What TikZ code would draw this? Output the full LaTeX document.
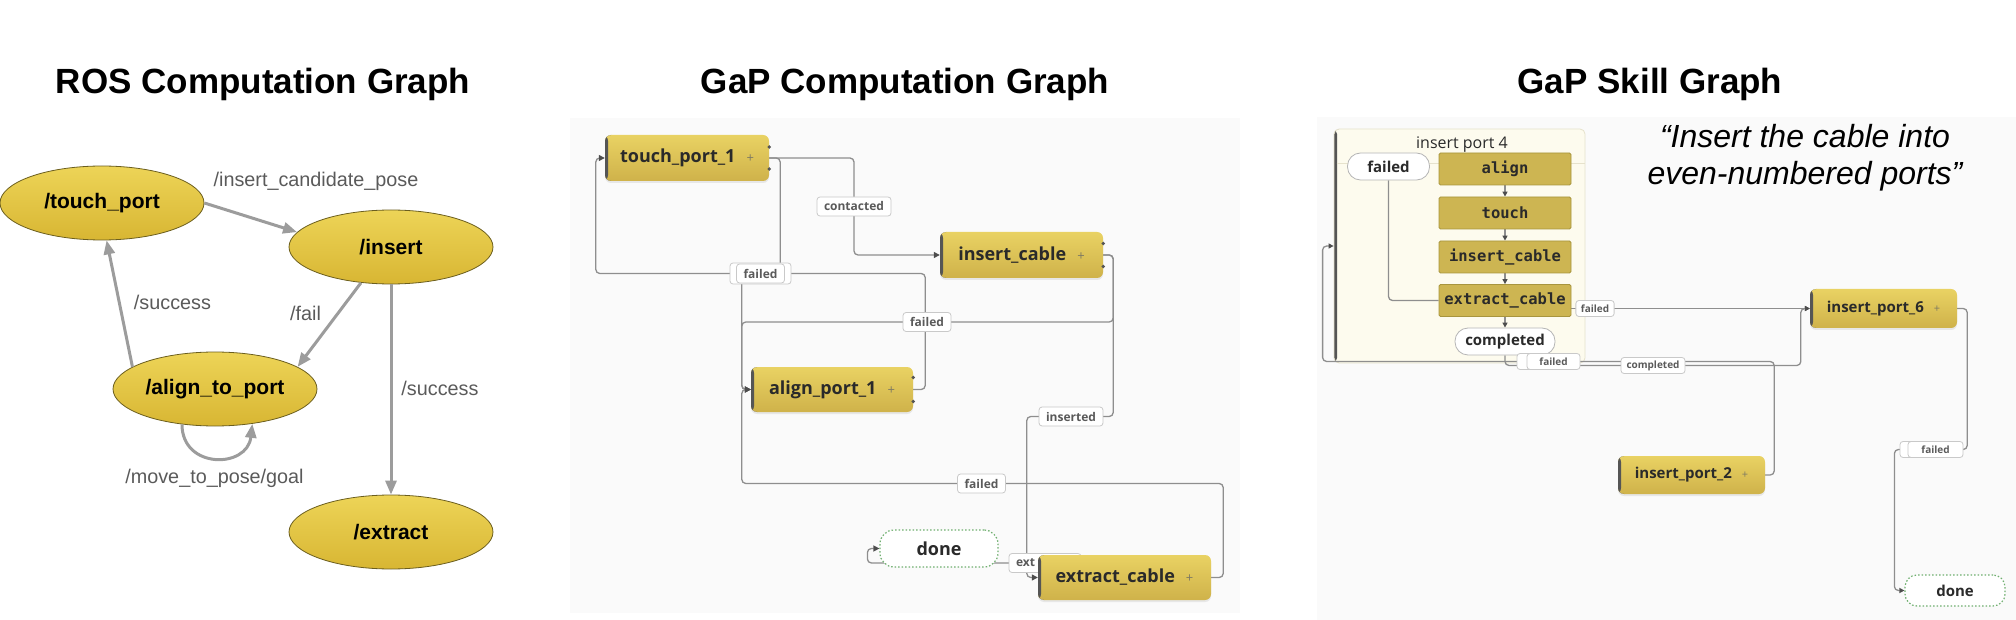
\documentclass[tikz,border=0pt]{standalone}
\usepackage{fontspec}
\setmainfont{Liberation Sans}
\newfontfamily\ops{Open Sans}
\newfontfamily\mono{DejaVu Sans Mono}
\usetikzlibrary{shapes.geometric,arrows.meta,shadows}
\newcommand\fsz[1]{\fontsize{#1}{#1}\selectfont}
\definecolor{rosTop}{HTML}{EDD457}
\definecolor{rosBot}{HTML}{D8B633}
\definecolor{rosBorder}{HTML}{6B5E1E}
\definecolor{rosGray}{HTML}{9C9C9C}
\definecolor{rosLab}{HTML}{5A5A5A}
\definecolor{gTop}{HTML}{E9D263}
\definecolor{gBot}{HTML}{CFB24A}
\definecolor{gEdge}{HTML}{555555}
\definecolor{gText}{HTML}{2A2A2A}
\definecolor{plusC}{HTML}{7E7A62}
\definecolor{lineC}{HTML}{8E8E8E}
\definecolor{arrowC}{HTML}{4D4D4D}
\definecolor{labBorder}{HTML}{C9C9C9}
\definecolor{labText}{HTML}{5A5A5A}
\definecolor{doneG}{HTML}{6FAF6F}
\definecolor{panelC}{HTML}{FAFAFA}
\definecolor{cream}{HTML}{FDFBEE}
\definecolor{creamBorder}{HTML}{E6E2CC}
\definecolor{mboxFill}{HTML}{CDB552}
\definecolor{mboxBorder}{HTML}{A8953E}
\definecolor{pillBorder}{HTML}{B5B5B5}
\newcommand\gtext[1]{#1\hspace{11pt}{\color{plusC}\fsz{13}\mdseries+}}
\newcommand\stext[1]{#1\hspace{10pt}{\color{plusC}\fsz{11}\mdseries+}}
\pgfdeclarelayer{bg}\pgfdeclarelayer{edges}\pgfsetlayers{bg,edges,main}
\begin{document}
\begin{tikzpicture}[x=1pt,y=-1pt,
  title/.style={font=\fsz{35}\bfseries, text=black, inner sep=0},
  rosnode/.style={ellipse, draw=rosBorder, line width=0.8pt, top color=rosTop, bottom color=rosBot,
    minimum width=204pt, minimum height=74pt, font=\fsz{21}\bfseries, text=black, inner sep=0},
  rosedge/.style={draw=rosGray, line width=3pt, -{Triangle[length=14pt,width=11pt]}},
  roslab/.style={text=rosLab, font=\fsz{19.8}, inner sep=0},
  gnode/.style={rectangle, rounded corners=6pt, top color=gTop, bottom color=gBot,
    minimum height=46pt, font=\ops\fsz{18}\bfseries, text=gText, inner xsep=0,
    path picture={\fill[gEdge] (path picture bounding box.north west) rectangle ([xshift=3pt]path picture bounding box.south west);},
    drop shadow={opacity=0.15, shadow xshift=0pt, shadow yshift=-2pt}},
  snode/.style={gnode, minimum height=39pt, font=\ops\fsz{15}\bfseries},
  glab/.style={draw=labBorder, fill=white, rounded corners=3pt, line width=0.8pt,
    font=\ops\fsz{12}\bfseries, text=labText, inner xsep=7pt, inner ysep=0pt, minimum height=19pt},
  slab/.style={glab, font=\ops\fsz{10}\bfseries, inner xsep=5pt, minimum height=16pt},
  gline/.style={draw=lineC, line width=1.3pt, rounded corners=4pt},
  garrow/.style={-{Triangle[length=6pt,width=6pt,color=arrowC]}},
  sarrow/.style={-{Triangle[length=5pt,width=5pt,color=arrowC]}},
  gdone/.style={draw=doneG, line width=1.2pt, dash pattern=on 1.5pt off 2pt, rounded corners=14pt,
    fill=white, font=\ops\fsz{18}\bfseries, text=gText, inner sep=0},
  mbox/.style={fill=mboxFill, draw=mboxBorder, line width=0.8pt, rounded corners=1.5pt,
    minimum width=132pt, minimum height=32pt, font=\mono\fsz{15.5}\bfseries, text=gText, inner sep=0},
  pill/.style={fill=white, draw=pillBorder, line width=0.8pt, rounded corners=13pt,
    font=\ops\fsz{15}\bfseries, text=gText, inner sep=0},
  dotn/.style={fill=gEdge}
]
\useasboundingbox (0,0) rectangle (2016,620);

% ---------- panels ----------
\begin{pgfonlayer}{bg}
  \fill[panelC] (570,118) rectangle (1240,613);
  \fill[panelC] (1317,117) rectangle (2016,620);
  \node[fill=cream, draw=creamBorder, line width=0.8pt, rounded corners=5pt,
        minimum width=251pt, minimum height=234pt, inner sep=0,
        path picture={\fill[gEdge] (path picture bounding box.north west) rectangle ([xshift=3pt]path picture bounding box.south west);}]
        (ip4) at (1459.5,246) {};
  \coordinate (hd) at (0,163);
  \draw[creamBorder, line width=0.8pt] ([xshift=3pt]ip4.west |- hd) -- (ip4.east |- hd);
\end{pgfonlayer}

% ---------- titles ----------
\node[title] (t1) at (263,84) {ROS Computation Graph};
\node[title] (t2) at (905,84) {GaP Computation Graph};
\node[title] (t3) at (1650,84) {GaP Skill Graph};

% ---------- ROS computation graph ----------
\node[rosnode] (touch) at (102,203) {/touch\_port};
\node[rosnode] (insert) at (391,247) {/insert};
\node[rosnode] (align) at (215,389) {/align\_to\_port};
\node[rosnode] (extract) at (391,532) {/extract};
\draw[rosedge] (touch.east) -- (insert.171);
\draw[rosedge] (insert.230) -- (align.15);
\draw[rosedge] (align.165) -- (touch.277);
\draw[rosedge] (insert.south) -- (extract.north);
\draw[rosedge] (align.227) .. controls +(0,45) and +(-5,45) .. (align.317);
\node[roslab] (l1) at (316,181) {/insert\_candidate\_pose};
\node[roslab] (l2) at (305.5,313) {/fail};
\node[roslab] (l3) at (172.5,302) {/success};
\node[roslab] (l4) at (440,388) {/success};
\node[roslab] (l5) at (214.5,478) {/move\_to\_pose/goal};

% ---------- GaP computation graph ----------
\node[glab] (le) at (1045,563) {\makebox[58pt][l]{ext}};
\node[gnode, minimum width=164pt] (tp) at (687,158) {\gtext{touch\_port\_1}};
\node[gnode, minimum width=163pt] (ic) at (1021.5,255) {\gtext{insert\_cable}};
\node[gnode, minimum width=162pt, minimum height=45pt] (ap) at (832,389.5) {\gtext{align\_port\_1}};
\node[gnode, minimum width=173pt, minimum height=45pt] (ec) at (1124.5,577.5) {\gtext{extract\_cable}};
\node[gdone, minimum width=118pt, minimum height=37pt] (dn) at (939,548.5) {done};
\foreach \n/\d in {tp/11,ic/11.5,ap/12}{
  \fill[dotn] ([yshift=\d pt]\n.east) circle (1.8pt);
  \fill[dotn] ([yshift=-\d pt]\n.east) circle (1.8pt);
}
\node[glab, minimum width=61pt, minimum height=21pt] (lf1b) at (760.5,273.5) {};
\node[glab] (lf1) at (760.5,273.5) {failed};
\node[glab] (lc) at (854,206.5) {contacted};
\node[glab] (lf2) at (927,322) {failed};
\node[glab] (li) at (1071,416.5) {inserted};
\node[glab] (lf3) at (981.5,483.5) {failed};

\begin{pgfonlayer}{edges}
  \draw[gline, garrow] (tp.east) -| (lc.center) |- (ic.west);
  \draw[gline, garrow] (tp.east) -- ([xshift=11pt]tp.east) |- (lf1.center) -| ([xshift=-9pt]ap.west) -- (ap.west);
  \draw[gline, garrow] (ap.east) -- ([xshift=12pt]ap.east) |- ([xshift=-9pt]tp.west |- lf1.center) -- ([xshift=-9pt]tp.west) -- (tp.west);
  \draw[gline, garrow] (ic.east) -- ([xshift=10pt]ic.east) |- (lf2.center) -| ([xshift=-9pt]ap.west) -- (ap.west);
  \draw[gline, garrow] (ic.east) -- ([xshift=10pt]ic.east) |- (li.center) -| ([xshift=-11pt]ec.west) -- (ec.west);
  \draw[gline, garrow] (ec.east) -- ([xshift=12pt]ec.east) |- (lf3.center) -| ([xshift=-9pt]ap.west) -- (ap.west);
  \draw[gline, garrow] (ec.center |- le.center) -- ([xshift=-12pt]dn.west |- le.center) |- (dn.west);
\end{pgfonlayer}

% ---------- GaP skill graph ----------
\node[font=\ops\fsz{16}, text=gText, inner sep=0] (ip4t) at (1462,145) {insert port 4};
\node[pill, minimum width=82pt, minimum height=27pt] (sf) at (1388.5,166.5) {failed};
\node[mbox] (sa) at (1505,169) {align};
\node[mbox] (st) at (1505,213) {touch};
\node[mbox] (si) at (1505,257) {insert\_cable};
\node[mbox] (se) at (1505,300.5) {extract\_cable};
\node[pill, minimum width=100pt, minimum height=27pt] (sc) at (1505,341.5) {completed};

\node[snode, minimum width=147pt] (p6) at (1883.5,308.5) {\stext{insert\_port\_6}};
\node[snode, minimum width=147pt, minimum height=38pt] (p2) at (1691.5,475) {\stext{insert\_port\_2}};
\node[gdone, font=\ops\fsz{15}\bfseries, rounded corners=12pt, minimum width=100pt, minimum height=31pt] (sd) at (1955,590.5) {done};

\node[slab] (sl1) at (1595,308.5) {failed};
\node[slab, minimum width=64pt] (sl2) at (1653,365.5) {completed};
\node[slab, minimum width=56pt] (sl3a) at (1545,361.5) {};
\node[slab, minimum width=53pt] (sl3) at (1553.5,361.5) {failed};
\node[slab, minimum width=55pt] (sl4a) at (1927.5,449.5) {};
\node[slab, minimum width=55pt] (sl4) at (1935.5,449.5) {failed};

\begin{pgfonlayer}{edges}
  \draw[gline, sarrow] (sa.south) -- (st.north);
  \draw[gline, sarrow] (st.south) -- (si.north);
  \draw[gline, sarrow] (si.south) -- (se.north);
  \draw[gline, sarrow] (se.south) -- (sc.north);
  \draw[gline] (sf.south) |- (se.west);
  \draw[gline, sarrow] (se.east |- p6.west) -- (p6.west);
  \draw[gline, sarrow] (sc.south) |- (sl2.center) -| ([xshift=-9pt]p6.west) -- (p6.west);
  \draw[gline, sarrow] (p2.east) -- ([xshift=9pt]p2.east) |- (sl3.center) -| ([xshift=-11pt]ip4.west) -- (ip4.west);
  \draw[gline, sarrow] (p6.east) -- ([xshift=10pt]p6.east) |- (sl4.center) -| ([xshift=-10pt]sd.west) -- (sd.west);
\end{pgfonlayer}

\node[font=\fontsize{32}{37}\selectfont\itshape, text=black, align=center, inner sep=0] (q) at (1805,158)
  {“Insert the cable into\\even-numbered ports”};
\end{tikzpicture}
\end{document}
